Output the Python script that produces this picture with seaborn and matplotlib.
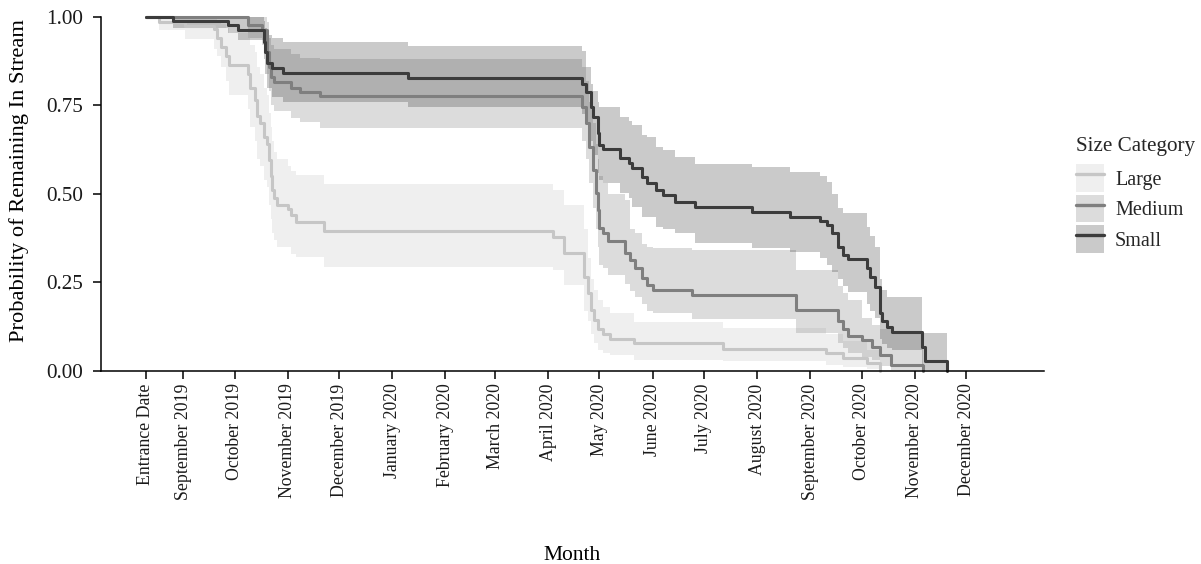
import matplotlib
matplotlib.use("Agg")
import matplotlib.pyplot as plt
from matplotlib.patches import Patch
from matplotlib.lines import Line2D
from matplotlib.legend_handler import HandlerTuple
import seaborn as sns
import pandas as pd

# Kaplan-Meier estimates by size category (days since entrance)
large_day = [0, 8, 23, 40, 42, 44, 47, 49, 60, 61, 64, 65, 67, 69, 71, 72, 73, 74, 75, 77,
             83, 85, 88, 104, 238, 244, 256, 258, 260, 262, 264, 267, 271, 285, 337, 397, 407, 421, 429]
large_surv = [1.000, 0.986, 0.975, 0.965, 0.940, 0.915, 0.890, 0.864, 0.840, 0.800, 0.766, 0.720, 0.700,
              0.662, 0.640, 0.596, 0.550, 0.511, 0.490, 0.469, 0.458, 0.440, 0.422, 0.395, 0.379, 0.333,
              0.266, 0.220, 0.172, 0.144, 0.120, 0.105, 0.090, 0.079, 0.061, 0.050, 0.037, 0.022, 0.000]
large_lower = [1.000, 0.963, 0.937, 0.910, 0.890, 0.860, 0.820, 0.780, 0.740, 0.690, 0.650, 0.600, 0.580,
               0.540, 0.520, 0.470, 0.430, 0.390, 0.370, 0.350, 0.350, 0.330, 0.323, 0.294, 0.285, 0.243,
               0.170, 0.140, 0.105, 0.080, 0.060, 0.050, 0.045, 0.031, 0.028, 0.018, 0.010, 0.005, 0.000]
large_upper = [1.000, 1.000, 1.000, 1.000, 0.990, 0.980, 0.970, 0.955, 0.940, 0.920, 0.900, 0.860, 0.840,
               0.800, 0.780, 0.730, 0.690, 0.650, 0.620, 0.600, 0.580, 0.565, 0.554, 0.527, 0.511, 0.470,
               0.400, 0.320, 0.260, 0.230, 0.200, 0.180, 0.165, 0.139, 0.121, 0.105, 0.085, 0.060, 0.000]

medium_day = [0, 60, 68, 71, 72, 73, 75, 85, 90, 102, 255, 257, 259, 261, 263, 264, 265, 267, 270, 280,
              283, 286, 290, 293, 296, 319, 380, 404, 407, 410, 418, 424, 429, 435, 454]
medium_surv = [1.000, 0.977, 0.963, 0.900, 0.860, 0.831, 0.817, 0.800, 0.789, 0.778, 0.747, 0.700, 0.633,
               0.568, 0.502, 0.455, 0.404, 0.389, 0.367, 0.333, 0.314, 0.290, 0.262, 0.243, 0.229, 0.215,
               0.172, 0.140, 0.120, 0.100, 0.088, 0.069, 0.045, 0.017, 0.000]
medium_lower = [1.000, 0.940, 0.920, 0.840, 0.790, 0.750, 0.735, 0.715, 0.704, 0.685, 0.650, 0.600, 0.530,
                0.460, 0.400, 0.350, 0.300, 0.290, 0.270, 0.245, 0.225, 0.210, 0.190, 0.170, 0.163, 0.148,
                0.106, 0.080, 0.065, 0.050, 0.040, 0.030, 0.015, 0.003, 0.000]
medium_upper = [1.000, 1.000, 1.000, 0.985, 0.940, 0.920, 0.910, 0.895, 0.885, 0.880, 0.860, 0.820, 0.760,
                0.700, 0.640, 0.600, 0.550, 0.530, 0.500, 0.483, 0.400, 0.390, 0.360, 0.350, 0.347, 0.342,
                0.285, 0.240, 0.220, 0.200, 0.150, 0.130, 0.120, 0.111, 0.000]

small_day = [0, 16, 48, 54, 69, 70, 71, 74, 80, 153, 255, 257, 260, 261, 264, 265, 267, 277, 282, 284,
             290, 293, 298, 302, 309, 321, 354, 376, 394, 398, 401, 404, 407, 410, 421, 423, 426, 429, 430,
             433, 436, 453, 455, 468]
small_surv = [1.000, 0.990, 0.977, 0.963, 0.930, 0.900, 0.870, 0.855, 0.843, 0.829, 0.812, 0.789, 0.747,
              0.718, 0.671, 0.638, 0.627, 0.601, 0.587, 0.573, 0.549, 0.530, 0.511, 0.497, 0.478, 0.462,
              0.450, 0.436, 0.424, 0.412, 0.390, 0.350, 0.328, 0.315, 0.290, 0.266, 0.238, 0.164, 0.140,
              0.125, 0.111, 0.069, 0.028, 0.000]
small_lower = [1.000, 0.970, 0.955, 0.935, 0.880, 0.840, 0.800, 0.775, 0.761, 0.745, 0.725, 0.700, 0.650,
               0.610, 0.560, 0.540, 0.530, 0.502, 0.490, 0.464, 0.436, 0.436, 0.408, 0.400, 0.389, 0.361,
               0.347, 0.337, 0.320, 0.300, 0.280, 0.260, 0.240, 0.224, 0.190, 0.170, 0.150, 0.090, 0.075,
               0.065, 0.059, 0.020, 0.004, 0.000]
small_upper = [1.000, 1.000, 1.000, 1.000, 0.990, 0.970, 0.950, 0.940, 0.930, 0.918, 0.905, 0.860, 0.810,
               0.790, 0.760, 0.747, 0.745, 0.718, 0.705, 0.695, 0.667, 0.660, 0.634, 0.625, 0.605, 0.586,
               0.577, 0.563, 0.550, 0.535, 0.500, 0.460, 0.445, 0.445, 0.408, 0.380, 0.351, 0.260, 0.230,
               0.210, 0.210, 0.106, 0.106, 0.000]

categories = ["Large", "Medium", "Small"]
line_colors = {"Large": "#C6C6C6", "Medium": "#7F7F7F", "Small": "#3C3C3C"}
band_alpha = 0.27

entrance = pd.Timestamp("2019-08-10")
tick_dates = pd.date_range("2019-09-01", "2020-12-01", freq="MS")
tick_labels = ["Entrance Date"] + [d.strftime("%B %Y") for d in tick_dates]
tick_days = [0] + [(d - entrance).days for d in tick_dates]

frames = []
for name, d, s, lo, hi in [("Large", large_day, large_surv, large_lower, large_upper),
                           ("Medium", medium_day, medium_surv, medium_lower, medium_upper),
                           ("Small", small_day, small_surv, small_lower, small_upper)]:
    frames.append(pd.DataFrame({"day": d, "surv": s, "lower": lo, "upper": hi, "size": name}))
km = pd.concat(frames, ignore_index=True)

sns.set_theme(style="ticks")
plt.rcParams["font.family"] = ["Liberation Serif", "DejaVu Serif"]

fig = plt.figure(figsize=(12.01, 5.64), dpi=100)
ax = fig.add_axes([0.0841, 0.3422, 0.7852, 0.6277])

# confidence bands
for name in categories:
    g = km[km["size"] == name]
    ax.fill_between(g["day"], g["lower"], g["upper"], step="post",
                    color=line_colors[name], alpha=band_alpha, linewidth=0)

# survival curves
sns.lineplot(data=km, x="day", y="surv", hue="size", hue_order=categories,
             palette=line_colors, drawstyle="steps-post", estimator=None, sort=False,
             linewidth=2.2, legend=False, ax=ax)
for ln in ax.lines:
    ln.set_clip_on(False)

ax.set_xlim(-26, 524.5)
ax.set_ylim(0, 1)
ax.set_yticks([0, 0.25, 0.5, 0.75, 1.0])
ax.set_yticklabels(["0.00", "0.25", "0.50", "0.75", "1.00"])
ax.set_xticks(tick_days)
ax.set_xticklabels(tick_labels, rotation=90, ha="center", va="top")

for side in ["top", "right"]:
    ax.spines[side].set_visible(False)
for side in ["left", "bottom"]:
    ax.spines[side].set_linewidth(1.1)
    ax.spines[side].set_color("black")

ax.tick_params(axis="both", length=6, width=1.1, color="black", labelcolor="#1a1a1a")
ax.tick_params(axis="x", labelsize=12.8, pad=3)
ax.tick_params(axis="y", labelsize=15.2, pad=7)
ax.set_xlabel("Month", fontsize=15.5, color="black", labelpad=33)
ax.set_ylabel("Probability of Remaining In Stream", fontsize=16.2, color="black")
ax.yaxis.set_label_coords(-0.0765, 0.537)

handles = []
for name in categories:
    patch = Patch(facecolor=line_colors[name], alpha=band_alpha, edgecolor="none")
    line = Line2D([], [], color=line_colors[name], linewidth=2.4)
    handles.append((patch, line))

leg = ax.legend(handles=handles, labels=categories, title="Size Category",
                handler_map={tuple: HandlerTuple(ndivide=1, pad=0)},
                loc="upper left", bbox_to_anchor=(1072 / 1201, 1 - 133 / 564),
                bbox_transform=fig.transFigure, frameon=False,
                fontsize=14.5, title_fontsize=15.2, handlelength=1.39, handleheight=1.72,
                handletextpad=0.55, labelspacing=0.15, borderaxespad=0, borderpad=0.2)
leg._legend_box.align = "left"
leg._legend_box.sep = 6.0  # extra room between the title and the keys

fig.savefig("out.png", dpi=100)
